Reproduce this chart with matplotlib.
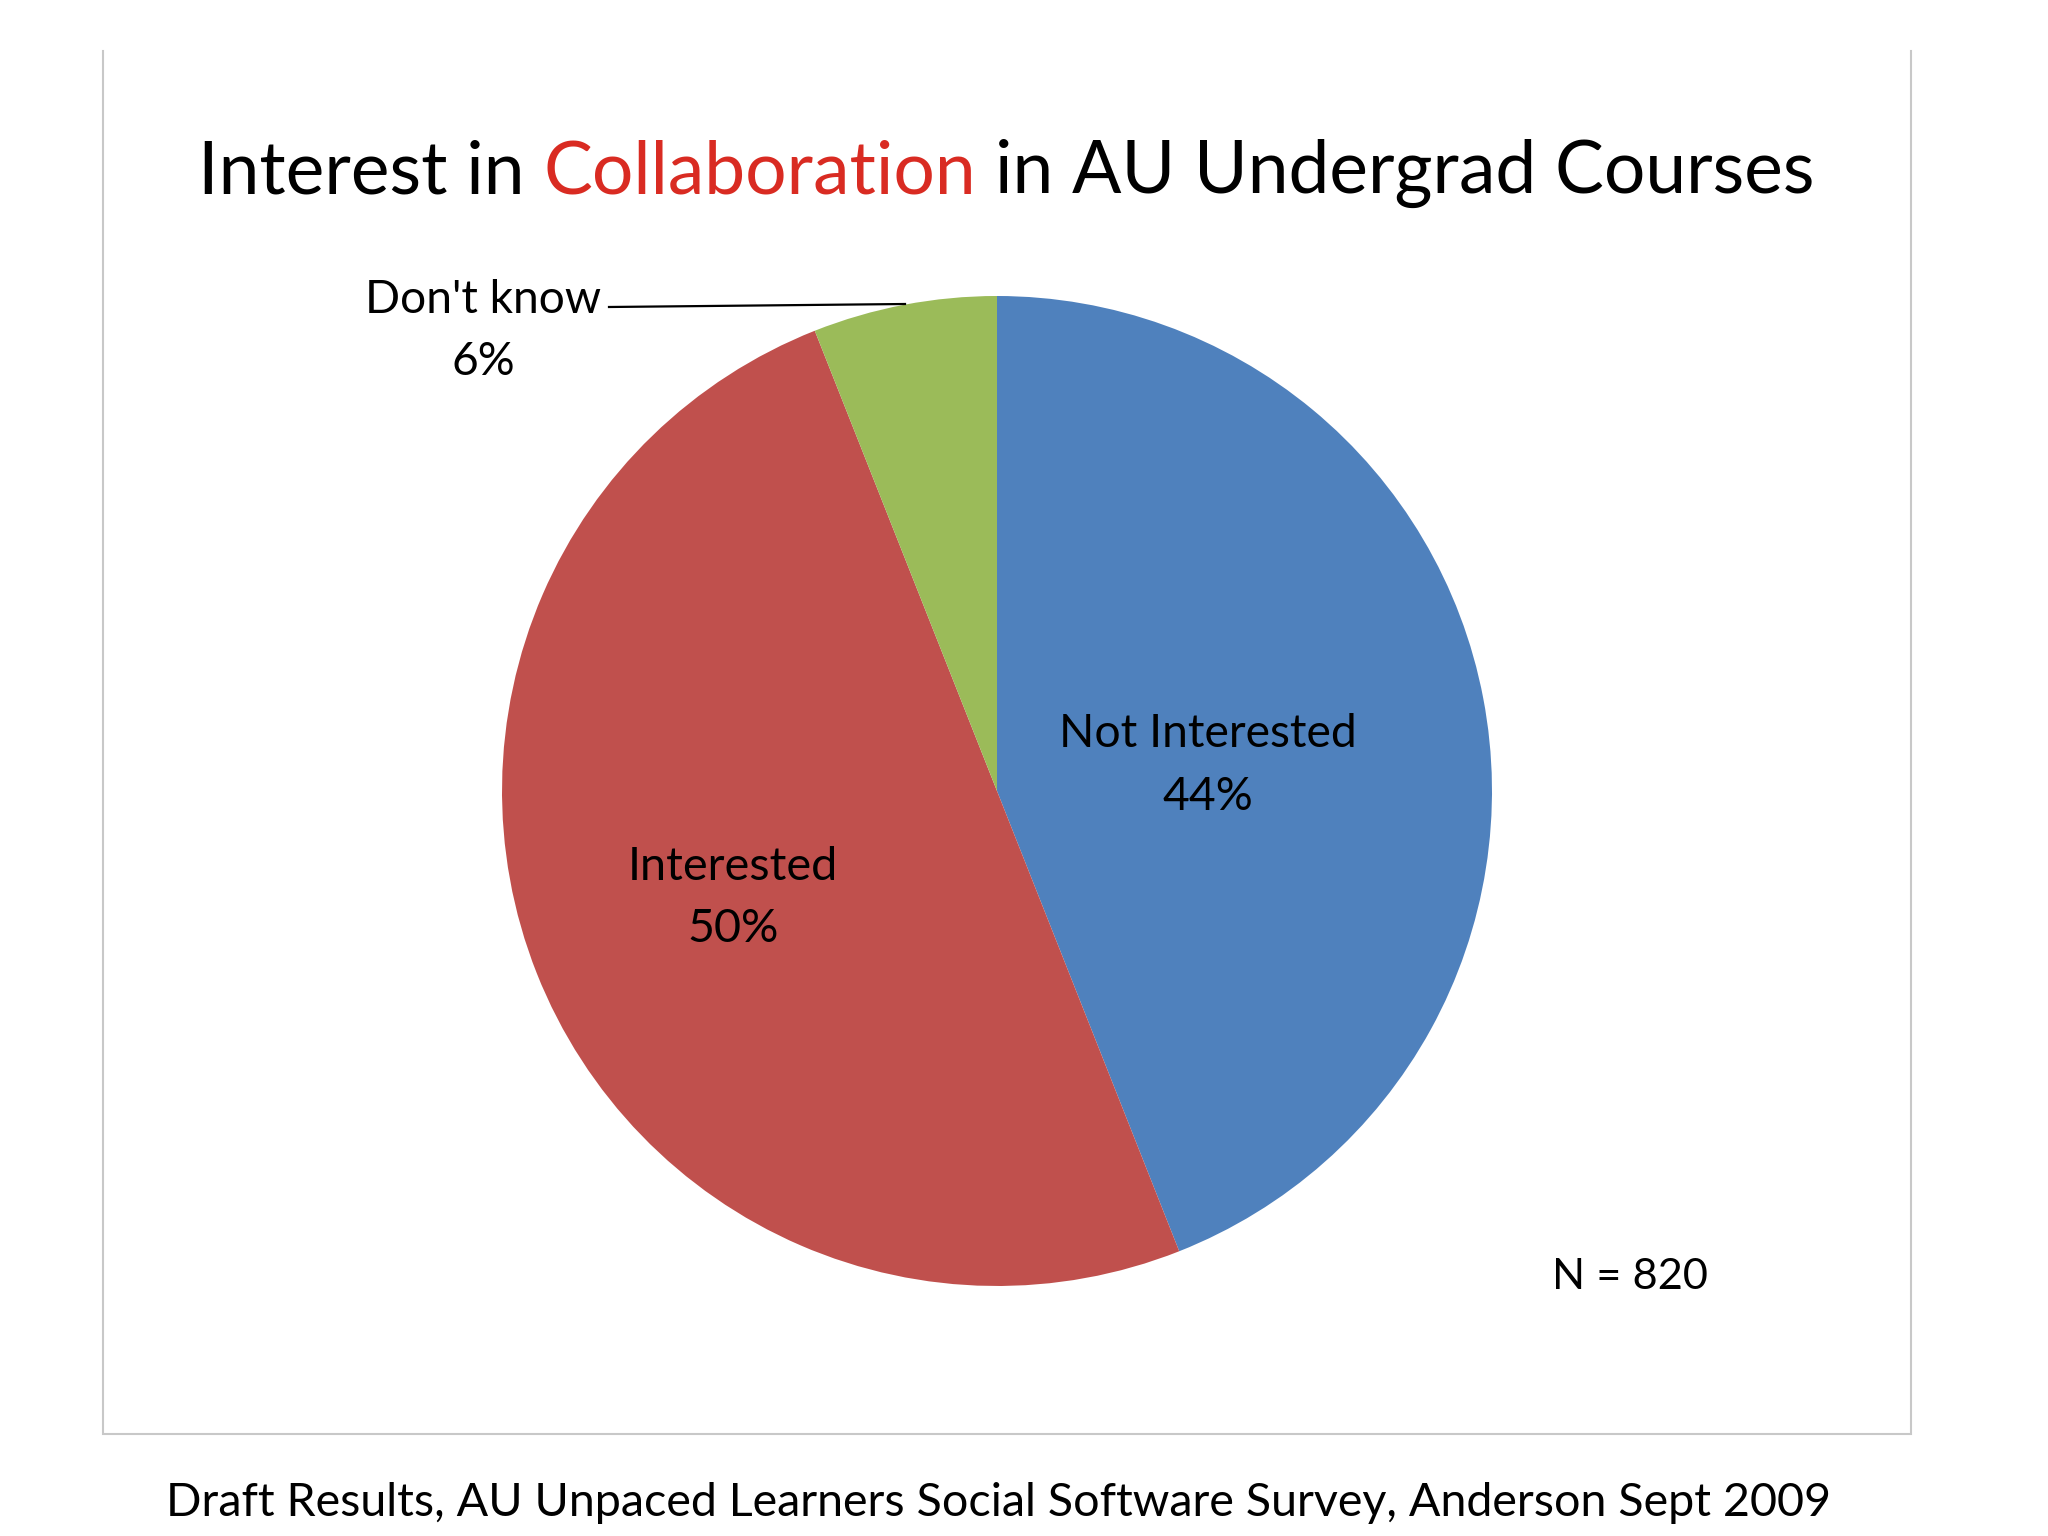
import matplotlib
matplotlib.use("Agg")
import matplotlib.pyplot as plt

# data
labels = ["Not Interested", "Interested", "Don't know"]
shares = [44, 50, 6]
colors = ["#4F81BD", "#C0504D", "#9BBB59"]
title_parts = ["Interest in", "Collaboration", "in AU Undergrad Courses"]
title_colors = ["black", "#D92B22", "black"]
sample_note = "N = 820"
footer = "Draft Results, AU Unpaced Learners Social Software Survey, Anderson Sept 2009"

plt.rcParams['font.family'] = ['Lato', 'DejaVu Sans']

W, H = 2048, 1536
fig = plt.figure(figsize=(W / 100, H / 100), dpi=100)
ax = fig.add_axes([0, 0, 1, 1])


def yy(y):
    # pixel rows from top -> data y
    return H - y


ax.pie(shares, colors=colors, startangle=90, counterclock=False,
       center=(997, yy(791)), radius=495,
       wedgeprops=dict(linewidth=0))
ax.set_xlim(0, W)
ax.set_ylim(0, H)
ax.set_aspect('equal')
ax.axis('off')

renderer = fig.canvas.get_renderer()


def width_of(t):
    return t.get_window_extent(renderer=renderer).width


def fit(t, target):
    t.set_fontsize(t.get_fontsize() * target / width_of(t))


# frame
ax.plot([103, 103, 1911, 1911], [yy(51), yy(1434), yy(1434), yy(51)],
        color="#C8C8C8", lw=1.5, solid_joinstyle='miter')

# title in three pieces
pieces = [ax.text(0, yy(173), p, color=c, fontsize=60, ha='left', va='center')
          for p, c in zip(title_parts, title_colors)]
gap_t = ax.text(0, 0, "a a", fontsize=60)
nogap_t = ax.text(0, 0, "aa", fontsize=60)
space = width_of(gap_t) - width_of(nogap_t)
gap_t.remove()
nogap_t.remove()
total = sum(width_of(p) for p in pieces) + 2 * space
scale = (1815 - 198) / total
for p in pieces:
    p.set_fontsize(60 * scale)
space *= scale
x = 198
for p in pieces:
    p.set_x(x)
    x += width_of(p) + space

# slice labels
lab_pos = [(1208, 734, 797, 298), (733, 867, 929, 210), (483, 300, 362, 236)]
for (cx, y1, y2, wid), name, v in zip(lab_pos, labels, shares):
    t = ax.text(cx, yy(y1), name, ha='center', va='center', fontsize=40)
    fit(t, wid)
    ax.text(cx, yy(y2), f"{v}%", ha='center', va='center', fontsize=t.get_fontsize())

# leader line for Don't know
ax.plot([609, 905], [yy(307), yy(304)], color="black", lw=1.6)

# note and footer
n = ax.text(1630, yy(1277), sample_note, ha='center', va='center', fontsize=40)
fit(n, 1708 - 1552)
f = ax.text(998, yy(1503), footer, ha='center', va='center', fontsize=40)
fit(f, 1832 - 165)

fig.savefig("out.png", dpi=100, facecolor="white")
